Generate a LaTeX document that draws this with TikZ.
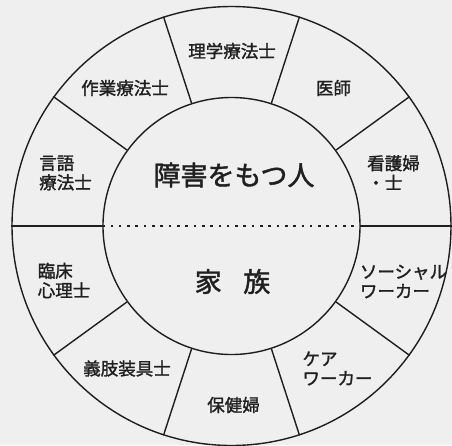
\documentclass[tikz,border=0pt]{standalone}
\usepackage{fontspec}
\newfontfamily\cjk[FakeBold=1.6]{Noto Sans CJK JP}
\definecolor{bgGray}{HTML}{EFEFEF}
\definecolor{lineGray}{HTML}{1E1E1E}
\definecolor{txtGray}{HTML}{202020}

\begin{document}
\begin{tikzpicture}
            [x=1pt,y=1pt,line width=1.4pt,draw=lineGray,
             ring/.style = {draw=lineGray,circle,inner sep=0pt},
             job/.style = {text=txtGray,align=left,inner sep=0pt,font=\cjk\fontsize{17.5}{19.5}\selectfont},
             core/.style = {text=txtGray,inner sep=0pt,font=\cjk\fontsize{27}{30}\selectfont}]
            \fill[bgGray] (-231.5,-219) rectangle (220.5,226);
            \useasboundingbox (-231.5,-219) rectangle (220.5,226);

            \node[ring,minimum size=439pt] (Outer) at (0,0) {};
            \node[ring,minimum size=257pt] (Inner) at (0,0) {};

            \draw (Inner.0) -- (Outer.0);
            \draw (Inner.36) -- (Outer.36);
            \draw (Inner.72) -- (Outer.72);
            \draw (Inner.108) -- (Outer.108);
            \draw (Inner.144) -- (Outer.144);
            \draw (Inner.180) -- (Outer.180);
            \draw (Inner.216) -- (Outer.216);
            \draw (Inner.252) -- (Outer.252);
            \draw (Inner.288) -- (Outer.288);
            \draw (Inner.324) -- (Outer.324);
            \draw[line width=2.6pt,dash pattern=on 2.6pt off 5.7pt] (Inner.180) -- (Inner.0);

            \node[core] (Person) at (2.5,51) {障害をもつ人};
            \node[core] (Family) at (1,-55.5) {家\hspace{0.8em}族};

            \node[job] (PT) at (0.5,175) {理学療法士};
            \node[job] (Doctor) at (102,138) {医師};
            \node[job] (Nurse) at (162,53.5) {看護婦\\・士};
            \node[job] (SocialWorker) at (172,-55.5) {ソーシャル\\ワーカー};
            \node[job] (CareWorker) at (106,-142.5) {ケア\\ワーカー};
            \node[job] (PublicNurse) at (2,-179) {保健婦};
            \node[job] (Prosthetist) at (-104.5,-142.5) {義肢装具士};
            \node[job] (Psychologist) at (-167.5,-54.5) {臨床\\心理士};
            \node[job] (ST) at (-166,53) {言語\\療法士};
            \node[job] (OT) at (-106.5,138) {作業療法士};
        \end{tikzpicture}
\end{document}
